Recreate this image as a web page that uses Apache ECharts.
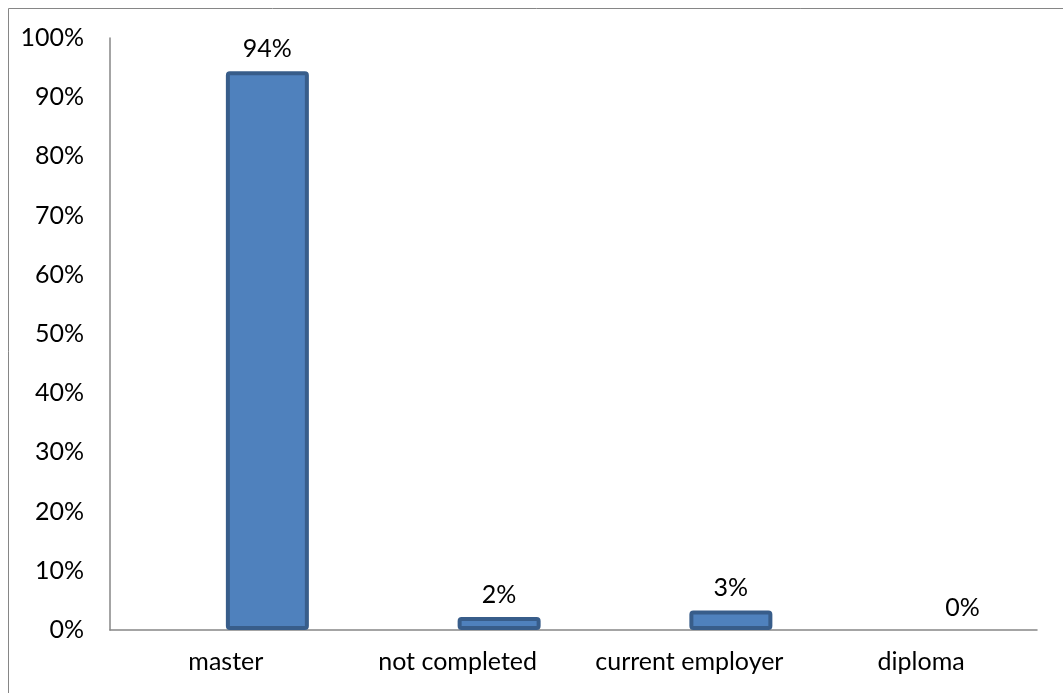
<!DOCTYPE html>
<html>
<head>
<meta charset="utf-8">
<script src="https://cdn.jsdelivr.net/npm/echarts@6/dist/echarts.min.js"></script>
<style>
html,body{margin:0;padding:0;background:#fff;}
#chart{width:1063px;height:693px;}
</style>
</head>
<body>
<div id="chart"></div>
<script>
const categories = ['master', 'not completed', 'current employer', 'diploma'];
const values = [94.4, 2.2, 3.3, 0];
const yMin = 0, yMax = 100, yStep = 10;

const FONT = 'Lato';
const FS = 25;
const chart = echarts.init(document.getElementById('chart'), null, {renderer: 'canvas'});
chart.setOption({
  animation: false,
  backgroundColor: '#ffffff',
  graphic: [{
    type: 'rect',
    shape: {x: 8.5, y: 8.5, width: 1200, height: 900},
    style: {fill: 'none', stroke: '#868686', lineWidth: 1},
    silent: true
  }],
  grid: {left: 110, right: 26, top: 38, bottom: 63, containLabel: false},
  xAxis: {
    type: 'category',
    data: categories,
    axisLine: {lineStyle: {color: '#868686', width: 1.5}},
    axisTick: {show: false},
    axisLabel: {color: '#000', fontFamily: FONT, fontSize: FS, margin: 19, interval: 0, hideOverlap: false}
  },
  yAxis: {
    type: 'value',
    min: yMin, max: yMax, interval: yStep,
    axisLine: {show: true, lineStyle: {color: '#868686', width: 1.5}},
    axisTick: {show: false},
    splitLine: {show: false},
    axisLabel: {color: '#000', fontFamily: FONT, fontSize: FS, margin: 26, formatter: '{value}%'}
  },
  series: [
    {
      type: 'bar',
      name: 'empty',
      data: categories.map(() => '-'),
      barWidth: 83,
      barGap: 0
    },
    {
      type: 'bar',
      name: 'share',
      barWidth: 83,
      barGap: 0,
      data: values.map(v => ({
        value: v,
        itemStyle: v === 0 ? {borderWidth: 0, color: 'rgba(0,0,0,0)'} : undefined
      })),
      itemStyle: {color: '#4F81BD', borderColor: '#385D8A', borderWidth: 4, borderRadius: 2},
      label: {
        show: true, position: 'top', distance: 10,
        color: '#000', fontFamily: FONT, fontSize: FS,
        formatter: p => Math.round(p.value) + '%'
      },
      labelLayout: {hideOverlap: false}
    }
  ]
});
</script>
</body>
</html>
